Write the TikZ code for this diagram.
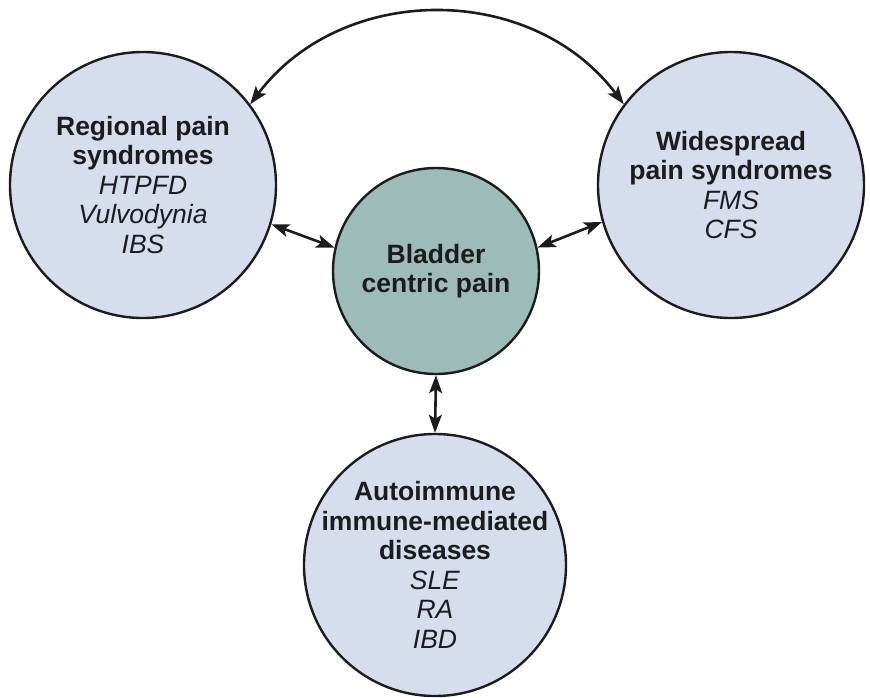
\documentclass[tikz,border=0pt]{standalone}
\usepackage{fontspec}
\setmainfont{Liberation Sans}
\usetikzlibrary{arrows.meta}
\definecolor{lightfill}{RGB}{214,221,237}
\definecolor{centerfill}{RGB}{157,187,184}
\definecolor{ink}{RGB}{28,28,30}
\tikzset{
  bubble/.style={circle, draw=ink, line width=2.4pt, inner sep=0pt},
  lightbubble/.style={bubble, fill=lightfill},
  centerbubble/.style={bubble, fill=centerfill},
  txt/.style={align=center, text=ink, inner sep=0pt, font=\fontsize{26.5}{29.5}\selectfont},
  link/.style={draw=ink, line width=2.6pt, {Stealth[length=18pt,width=13pt,inset=4pt]}-{Stealth[length=18pt,width=13pt,inset=4pt]}}
}
\begin{document}
\begin{tikzpicture}[x=1pt,y=-1pt]
\useasboundingbox (0,0) rectangle (870,697);
\node[lightbubble, minimum size=266pt] (L) at (143,185) {};
\node[txt] (Lt) at (L) {\textbf{Regional pain}\\\textbf{syndromes}\\\textit{HTPFD}\\\textit{Vulvodynia}\\\textit{IBS}};
\node[lightbubble, minimum size=266pt] (R) at (731,185) {};
\node[txt] (Rt) at (R) {\textbf{Widespread}\\\textbf{pain syndromes}\\\textit{FMS}\\\textit{CFS}};
\node[centerbubble, minimum size=206pt] (C) at (436,271) {};
\node[txt] (Ct) at (C) {\textbf{Bladder}\\\textbf{centric pain}};
\node[lightbubble, minimum size=262pt] (B) at (435,565) {};
\node[txt] (Bt) at (B) {\textbf{Autoimmune}\\\textbf{immune-mediated}\\\textbf{diseases}\\\textit{SLE}\\\textit{RA}\\\textit{IBD}};
\draw[link] (L.37) to[out=53,in=127,looseness=1.05] (R.143);
\draw[link] (L.-17) -- (C.167);
\draw[link] (C.13) -- (R.-164);
\draw[link] (C.south) -- (B.north);
\end{tikzpicture}
\end{document}
